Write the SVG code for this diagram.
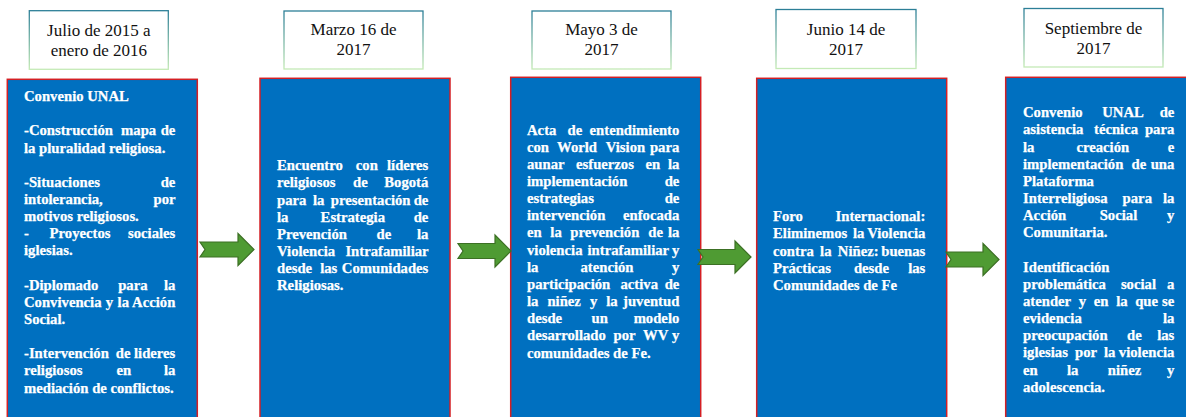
<svg xmlns="http://www.w3.org/2000/svg" width="1186" height="417" viewBox="0 0 1186 417">
<defs>
<linearGradient id="hdrStroke" x1="0" y1="0" x2="0" y2="1">
<stop offset="0" stop-color="#2c7f97"/>
<stop offset="1" stop-color="#c4eab6"/>
</linearGradient>
<style>
.hdr{fill:#ffffff;stroke:url(#hdrStroke);stroke-width:1.3}
.hdrt{font-family:"Liberation Serif","Times New Roman",serif;font-size:17px;fill:#111111;text-anchor:middle}
.box{fill:#0070c0;stroke:#d41f24;stroke-width:1.5}
.bt{font-family:"Liberation Serif","Times New Roman",serif;font-size:14.7px;font-weight:bold;fill:#ffffff;stroke:#ffffff;stroke-width:0.25}
.e{text-anchor:end}
.arr{fill:#4f9b33;stroke:#3c7024;stroke-width:1.2;stroke-linejoin:miter}
</style>
</defs>
<rect width="1186" height="417" fill="#ffffff"/>

<g id="header1"><rect class="hdr" x="29.3" y="10.7" width="139" height="58.6"/>
<text class="hdrt"><tspan x="98.8" y="35.5">Julio de 2015 a</tspan><tspan x="98.8" y="55.5">enero de 2016</tspan></text></g>
<g id="header2"><rect class="hdr" x="284" y="11" width="139" height="58"/>
<text class="hdrt"><tspan x="353.5" y="35.3">Marzo 16 de</tspan><tspan x="353.5" y="55.3">2017</tspan></text></g>
<g id="header3"><rect class="hdr" x="532" y="11" width="139" height="58"/>
<text class="hdrt"><tspan x="601.5" y="35">Mayo 3 de</tspan><tspan x="601.5" y="55">2017</tspan></text></g>
<g id="header4"><rect class="hdr" x="776" y="9.5" width="140" height="59"/>
<text class="hdrt"><tspan x="846" y="34.5">Junio 14 de</tspan><tspan x="846" y="54.5">2017</tspan></text></g>
<g id="header5"><rect class="hdr" x="1024" y="8.5" width="139" height="58.5"/>
<text class="hdrt"><tspan x="1093.5" y="34">Septiembre de</tspan><tspan x="1093.5" y="54">2017</tspan></text></g>

<g id="event1"><rect class="box" x="7.3" y="79.3" width="190" height="360"/>
<text class="bt">
<tspan x="24" y="101">Convenio UNAL</tspan>
<tspan x="24" y="135.3">-Construcción</tspan><tspan x="121.1" y="135.3">mapa</tspan><tspan class="e" x="179" y="135.3">de</tspan>
<tspan x="24" y="152.5">la pluralidad religiosa.</tspan>
<tspan x="24" y="186.8">-Situaciones</tspan><tspan class="e" x="179" y="186.8">de</tspan>
<tspan x="24" y="203.9">intolerancia,</tspan><tspan class="e" x="179" y="203.9">por</tspan>
<tspan x="24" y="221.1">motivos religiosos.</tspan>
<tspan x="24" y="238.2">-</tspan><tspan x="49.6" y="238.2">Proyectos</tspan><tspan class="e" x="179" y="238.2">sociales</tspan>
<tspan x="24" y="255.4">iglesias.</tspan>
<tspan x="24" y="289.7">-Diplomado</tspan><tspan x="118.2" y="289.7">para</tspan><tspan class="e" x="179" y="289.7">la</tspan>
<tspan x="24" y="306.8">Convivencia</tspan><tspan x="105.8" y="306.8">y</tspan><tspan x="117.6" y="306.8">la</tspan><tspan class="e" x="179" y="306.8">Acción</tspan>
<tspan x="24" y="324">Social.</tspan>
<tspan x="24" y="358.3">-Intervención</tspan><tspan x="115.8" y="358.3">de</tspan><tspan class="e" x="179" y="358.3">lideres</tspan>
<tspan x="24" y="375.4">religiosos</tspan><tspan x="116.4" y="375.4">en</tspan><tspan class="e" x="179" y="375.4">la</tspan>
<tspan x="24" y="392.6">mediación de conflictos.</tspan>
</text></g>

<g id="event2"><rect class="box" x="260" y="78.3" width="190" height="360"/>
<text class="bt">
<tspan x="277" y="170.2">Encuentro</tspan><tspan x="355.8" y="170.2">con</tspan><tspan class="e" x="432" y="170.2">líderes</tspan>
<tspan x="277" y="187.4">religiosos</tspan><tspan x="353" y="187.4">de</tspan><tspan class="e" x="432" y="187.4">Bogotá</tspan>
<tspan x="277" y="204.5">para</tspan><tspan x="312.9" y="204.5">la</tspan><tspan x="330.8" y="204.5">presentación</tspan><tspan class="e" x="432" y="204.5">de</tspan>
<tspan x="277" y="221.7">la</tspan><tspan x="320.6" y="221.7">Estrategia</tspan><tspan class="e" x="432" y="221.7">de</tspan>
<tspan x="277" y="238.8">Prevención</tspan><tspan x="376.6" y="238.8">de</tspan><tspan class="e" x="432" y="238.8">la</tspan>
<tspan x="277" y="256">Violencia</tspan><tspan class="e" x="432" y="256">Intrafamiliar</tspan>
<tspan x="277" y="273.1">desde</tspan><tspan x="320.2" y="273.1">las</tspan><tspan class="e" x="432" y="273.1">Comunidades</tspan>
<tspan x="277" y="290.3">Religiosas.</tspan>
</text></g>

<g id="event3"><rect class="box" x="510.7" y="77.3" width="190" height="360"/>
<text class="bt">
<tspan x="527" y="134.5">Acta</tspan><tspan x="567.5" y="134.5">de</tspan><tspan class="e" x="683" y="134.5">entendimiento</tspan>
<tspan x="527" y="151.7">con</tspan><tspan x="557" y="151.7">World</tspan><tspan x="605.7" y="151.7">Vision</tspan><tspan class="e" x="683" y="151.7">para</tspan>
<tspan x="527" y="168.8">aunar</tspan><tspan x="576" y="168.8">esfuerzos</tspan><tspan x="645.5" y="168.8">en</tspan><tspan class="e" x="683" y="168.8">la</tspan>
<tspan x="527" y="186">implementación</tspan><tspan class="e" x="683" y="186">de</tspan>
<tspan x="527" y="203.1">estrategias</tspan><tspan class="e" x="683" y="203.1">de</tspan>
<tspan x="527" y="220.3">intervención</tspan><tspan class="e" x="683" y="220.3">enfocada</tspan>
<tspan x="527" y="237.4">en</tspan><tspan x="550.3" y="237.4">la</tspan><tspan x="570.3" y="237.4">prevención</tspan><tspan x="648.3" y="237.4">de</tspan><tspan class="e" x="683" y="237.4">la</tspan>
<tspan x="527" y="254.6">violencia</tspan><tspan x="587.5" y="254.6">intrafamiliar</tspan><tspan class="e" x="683" y="254.6">y</tspan>
<tspan x="527" y="271.7">la</tspan><tspan x="580.5" y="271.7">atención</tspan><tspan class="e" x="683" y="271.7">y</tspan>
<tspan x="527" y="288.9">participación</tspan><tspan x="620.5" y="288.9">activa</tspan><tspan class="e" x="683" y="288.9">de</tspan>
<tspan x="527" y="306">la</tspan><tspan x="547.4" y="306">niñez</tspan><tspan x="589.9" y="306">y</tspan><tspan x="606.2" y="306">la</tspan><tspan class="e" x="683" y="306">juventud</tspan>
<tspan x="527" y="323.2">desde</tspan><tspan x="591.5" y="323.2">un</tspan><tspan class="e" x="683" y="323.2">modelo</tspan>
<tspan x="527" y="340.3">desarrollado</tspan><tspan x="613.6" y="340.3">por</tspan><tspan x="643" y="340.3">WV</tspan><tspan class="e" x="683" y="340.3">y</tspan>
<tspan x="527" y="357.5">comunidades de Fe.</tspan>
</text></g>

<g id="event4"><rect class="box" x="756.7" y="78.3" width="190" height="360"/>
<text class="bt">
<tspan x="773" y="221.2">Foro</tspan><tspan class="e" x="929" y="221.2">Internacional:</tspan>
<tspan x="773" y="238.4">Eliminemos</tspan><tspan x="853" y="238.4">la</tspan><tspan class="e" x="929" y="238.4">Violencia</tspan>
<tspan x="773" y="255.5">contra</tspan><tspan x="820.1" y="255.5">la</tspan><tspan x="837.8" y="255.5">Niñez:</tspan><tspan class="e" x="929" y="255.5">buenas</tspan>
<tspan x="773" y="272.7">Prácticas</tspan><tspan x="853.9" y="272.7">desde</tspan><tspan class="e" x="929" y="272.7">las</tspan>
<tspan x="773" y="289.8">Comunidades de Fe</tspan>
</text></g>

<g id="event5"><rect class="box" x="1005.7" y="77.3" width="190" height="360"/>
<text class="bt">
<tspan x="1023" y="117.2">Convenio</tspan><tspan x="1102.2" y="117.2">UNAL</tspan><tspan class="e" x="1178" y="117.2">de</tspan>
<tspan x="1023" y="134.4">asistencia</tspan><tspan x="1094" y="134.4">técnica</tspan><tspan class="e" x="1178" y="134.4">para</tspan>
<tspan x="1023" y="151.5">la</tspan><tspan x="1076.4" y="151.5">creación</tspan><tspan class="e" x="1178" y="151.5">e</tspan>
<tspan x="1023" y="168.7">implementación</tspan><tspan x="1131.5" y="168.7">de</tspan><tspan class="e" x="1178" y="168.7">una</tspan>
<tspan x="1023" y="185.8">Plataforma</tspan>
<tspan x="1023" y="203">Interreligiosa</tspan><tspan x="1122.6" y="203">para</tspan><tspan class="e" x="1178" y="203">la</tspan>
<tspan x="1023" y="220.1">Acción</tspan><tspan x="1099.7" y="220.1">Social</tspan><tspan class="e" x="1178" y="220.1">y</tspan>
<tspan x="1023" y="237.3">Comunitaria.</tspan>
<tspan x="1023" y="271.6">Identificación</tspan>
<tspan x="1023" y="288.7">problemática</tspan><tspan x="1120.9" y="288.7">social</tspan><tspan class="e" x="1178" y="288.7">a</tspan>
<tspan x="1023" y="305.9">atender</tspan><tspan x="1078.8" y="305.9">y</tspan><tspan x="1093.8" y="305.9">en</tspan><tspan x="1116.2" y="305.9">la</tspan><tspan x="1135.2" y="305.9">que</tspan><tspan class="e" x="1178" y="305.9">se</tspan>
<tspan x="1023" y="323">evidencia</tspan><tspan class="e" x="1178" y="323">la</tspan>
<tspan x="1023" y="340.2">preocupación</tspan><tspan x="1127" y="340.2">de</tspan><tspan class="e" x="1178" y="340.2">las</tspan>
<tspan x="1023" y="357.3">iglesias</tspan><tspan x="1075" y="357.3">por</tspan><tspan x="1104" y="357.3">la</tspan><tspan class="e" x="1178" y="357.3">violencia</tspan>
<tspan x="1023" y="374.5">en</tspan><tspan x="1067" y="374.5">la</tspan><tspan x="1107.8" y="374.5">niñez</tspan><tspan class="e" x="1178" y="374.5">y</tspan>
<tspan x="1023" y="391.6">adolescencia.</tspan>
</text></g>

<g id="connectors">
<path class="arr" d="M200,242 L238,242 L238,233.5 L254,249.5 L238,265.5 L238,257 L200,257 L205,249.5 Z"/>
<path class="arr" d="M458,243.5 L495,243.5 L495,235 L511,251 L495,267 L495,258.5 L458,258.5 L463,251 Z"/>
<path class="arr" d="M698,249.5 L735,249.5 L735,241 L751,257 L735,273 L735,264.5 L698,264.5 L703,257 Z"/>
<path class="arr" d="M946,252 L983,252 L983,243.5 L999,259.5 L983,275.5 L983,267 L946,267 L951,259.5 Z"/>
</g>
</svg>
